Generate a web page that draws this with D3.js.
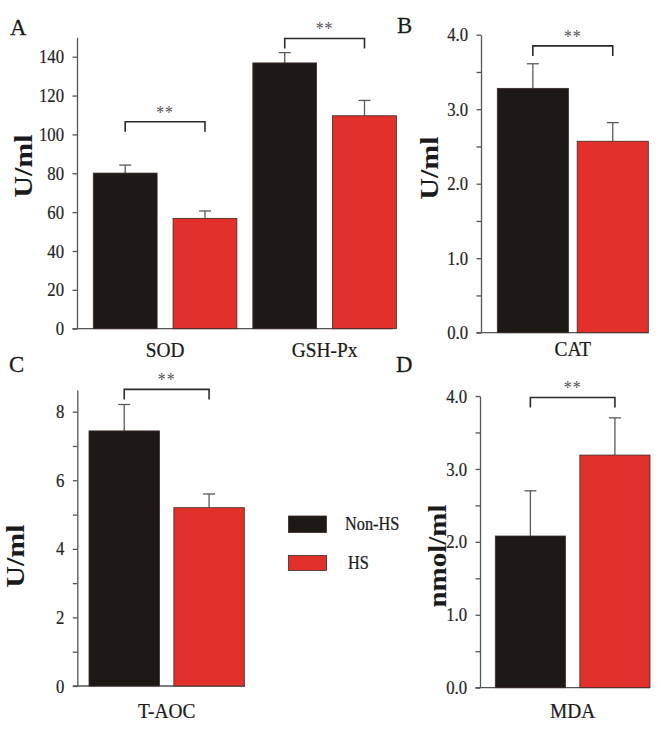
<!DOCTYPE html>
<html>
<head>
<meta charset="utf-8">
<script src="https://cdn.jsdelivr.net/npm/d3@7"></script>
<style>
  html, body { margin: 0; padding: 0; background: #fff; }
  svg { display: block; }
  text { font-family: "Liberation Serif", "Times New Roman", serif; }
</style>
</head>
<body>
<svg id="chart" width="668" height="734"></svg>
<script>
// ---------------- data ----------------
const seriesNames = ["Non-HS", "HS"];
const seriesColors = ["#1d1a16", "#e2302b"];

const groupsA = ["SOD", "GSH-Px"];
const nonHS_A = [80.1, 136.8];
const nonHS_A_sd = [4.1, 5.3];
const hs_A = [56.8, 109.6];
const hs_A_sd = [3.8, 7.9];
const ticksA = [0, 20, 40, 60, 80, 100, 120, 140];
const bracketA = [106.5, 149.4];

const groupsB = ["CAT"];
const nonHS_B = [3.28];
const nonHS_B_sd = [0.33];
const hs_B = [2.57];
const hs_B_sd = [0.25];
const ticksB = [0, 0.5, 1, 1.5, 2, 2.5, 3, 3.5, 4];
const labelTicksB = [0, 1, 2, 3, 4];
const bracketB = [3.85];

const groupsC = ["T-AOC"];
const nonHS_C = [7.44];
const nonHS_C_sd = [0.77];
const hs_C = [5.2];
const hs_C_sd = [0.4];
const ticksC = [0, 1, 2, 3, 4, 5, 6, 7, 8];
const labelTicksC = [0, 2, 4, 6, 8];
const bracketC = [8.65];

const groupsD = ["MDA"];
const nonHS_D = [2.08];
const nonHS_D_sd = [0.62];
const hs_D = [3.19];
const hs_D_sd = [0.51];
const ticksD = [0, 0.5, 1, 1.5, 2, 2.5, 3, 3.5, 4];
const labelTicksD = [0, 1, 2, 3, 4];
const bracketD = [3.98];

// ---------------- drawing ----------------
const svg = d3.select("#chart");
const SX = 0.88; // horizontal compression of text in the original figure

function hText(g, x, y, str, opts) {
  const t = g.append("text")
    .attr("transform", `translate(${x},${y}) scale(${opts.sx || SX},1)`)
    .attr("text-anchor", opts.anchor || "start")
    .attr("font-size", opts.size)
    .attr("fill", opts.fill || "#1a1a1a")
    .attr("stroke", opts.fill || "#1a1a1a")
    .attr("stroke-width", opts.sw == null ? 0.25 : opts.sw)
    .text(str);
  if (opts.weight) t.attr("font-weight", opts.weight);
  if (opts.ls) t.attr("letter-spacing", opts.ls);
  return t;
}

function vText(g, x, y, str, opts) {
  return g.append("text")
    .attr("transform", `translate(${x},${y}) rotate(-90) scale(1,${opts.sx || 0.85})`)
    .attr("text-anchor", "middle")
    .attr("font-size", opts.size)
    .attr("font-weight", "bold")
    .attr("fill", "#1a1a1a")
    .text(str);
}

function panel(cfg) {
  const g = svg.append("g");
  const y = d3.scaleLinear().domain([0, cfg.yTop]).range([cfg.y0, cfg.yTopPx]);
  const xg = d3.scaleBand().domain(cfg.groups).range(cfg.barRange).paddingInner(cfg.groupPad);
  const xs = d3.scaleBand().domain(seriesNames).range([0, xg.bandwidth()]).paddingInner(cfg.barPad);

  // y axis
  const labelSet = new Set(cfg.labelTicks.map(String));
  const axis = d3.axisLeft(y)
    .tickValues(cfg.ticks)
    .tickSize(4.5)
    .tickSizeOuter(0)
    .tickPadding(8.5)
    .tickFormat(d => labelSet.has(String(d)) ? d3.format(cfg.fmt)(d) : "");
  const ax = g.append("g").attr("transform", `translate(${cfg.axisX},0)`).call(axis);
  ax.select(".domain").attr("stroke", "#555").attr("stroke-width", 1.3);
  ax.selectAll(".tick line").attr("stroke", "#555").attr("stroke-width", 1.3);
  ax.selectAll(".tick text")
    .attr("font-family", "'Liberation Serif', serif")
    .attr("font-size", 19)
    .attr("fill", "#222")
    .attr("stroke", "#222")
    .attr("stroke-width", 0.2)
    .each(function () {
      const t = d3.select(this);
      const x = +t.attr("x");
      t.attr("x", x / SX).attr("transform", `scale(${SX},1)`);
    });

  // x axis line
  g.append("line")
    .attr("x1", cfg.axisX - 4.5).attr("x2", cfg.xAxisEnd)
    .attr("y1", y(0)).attr("y2", y(0))
    .attr("stroke", "#555").attr("stroke-width", 1.3);

  // bars
  cfg.groups.forEach((grp, i) => {
    const vals = [cfg.nonHS[i], cfg.hs[i]];
    const sds = [cfg.nonHS_sd[i], cfg.hs_sd[i]];
    seriesNames.forEach((s, j) => {
      const bx = xg(grp) + xs(s);
      const bw = xs.bandwidth();
      const cx = bx + bw / 2;
      // error bar
      g.append("line")
        .attr("x1", cx).attr("x2", cx)
        .attr("y1", y(vals[j])).attr("y2", y(vals[j] + sds[j]))
        .attr("stroke", "#5a5a5a").attr("stroke-width", 1.3);
      g.append("line")
        .attr("x1", cx - 6).attr("x2", cx + 6)
        .attr("y1", y(vals[j] + sds[j])).attr("y2", y(vals[j] + sds[j]))
        .attr("stroke", "#5a5a5a").attr("stroke-width", 1.3);
      g.append("rect")
        .attr("x", bx).attr("y", y(vals[j]))
        .attr("width", bw).attr("height", y(0) - y(vals[j]))
        .attr("fill", seriesColors[j])
        .attr("stroke", "#3a2a28").attr("stroke-width", 0.8);
    });
    // bracket
    const x1 = xg(grp) + xs(seriesNames[0]) + xs.bandwidth() / 2;
    const x2 = xg(grp) + xs(seriesNames[1]) + xs.bandwidth() / 2;
    const by = y(cfg.bracket[i]);
    g.append("path")
      .attr("d", `M${x1},${by + 10}V${by}H${x2}V${by + 10}`)
      .attr("fill", "none").attr("stroke", "#2a2a2a").attr("stroke-width", 1.6);
    hText(g, (x1 + x2) / 2, by - 3, "**", { size: 18, anchor: "middle", fill: "#555", ls: 1, sw: 0 });
    // category label
    hText(g, xg(grp) + xg.bandwidth() / 2, cfg.catY, grp, { size: 22, anchor: "middle" });
  });

  // y label
  vText(g, cfg.yLabelX, cfg.yLabelY, cfg.yLabel, { size: cfg.yLabelSize, sx: 0.85 });
  // panel letter
  hText(g, cfg.letterX, cfg.letterY, cfg.letter, { size: 24, sx: 0.95 });
}

panel({
  letter: "A", letterX: 10, letterY: 35,
  groups: groupsA, nonHS: nonHS_A, nonHS_sd: nonHS_A_sd, hs: hs_A, hs_sd: hs_A_sd,
  ticks: ticksA, labelTicks: ticksA, fmt: "d", bracket: bracketA,
  yTop: 150, y0: 328.7, yTopPx: 328.7 - 150 * (272 / 140),
  axisX: 77, xAxisEnd: 393, barRange: [93.3, 396.4], groupPad: 0.1, barPad: 0.2,
  catY: 357, yLabel: "U/ml", yLabelX: 32, yLabelY: 166, yLabelSize: 30
});

panel({
  letter: "B", letterX: 397, letterY: 33,
  groups: groupsB, nonHS: nonHS_B, nonHS_sd: nonHS_B_sd, hs: hs_B, hs_sd: hs_B_sd,
  ticks: ticksB, labelTicks: labelTicksB, fmt: ".1f", bracket: bracketB,
  yTop: 4, y0: 332.7, yTopPx: 34.7,
  axisX: 481, xAxisEnd: 648.5, barRange: [497.3, 648.3], groupPad: 0, barPad: 0.11,
  catY: 356, yLabel: "U/ml", yLabelX: 438, yLabelY: 168, yLabelSize: 30
});

panel({
  letter: "C", letterX: 9, letterY: 372,
  groups: groupsC, nonHS: nonHS_C, nonHS_sd: nonHS_C_sd, hs: hs_C, hs_sd: hs_C_sd,
  ticks: ticksC, labelTicks: labelTicksC, fmt: "d", bracket: bracketC,
  yTop: 8.63, y0: 686, yTopPx: 686 - 8.63 * (274.3 / 8),
  axisX: 77.3, xAxisEnd: 245, barRange: [89, 244.3], groupPad: 0, barPad: 0.17,
  catY: 718, yLabel: "U/ml", yLabelX: 24, yLabelY: 556, yLabelSize: 30
});

panel({
  letter: "D", letterX: 396, letterY: 372,
  groups: groupsD, nonHS: nonHS_D, nonHS_sd: nonHS_D_sd, hs: hs_D, hs_sd: hs_D_sd,
  ticks: ticksD, labelTicks: labelTicksD, fmt: ".1f", bracket: bracketD,
  yTop: 4, y0: 687.7, yTopPx: 396,
  axisX: 480, xAxisEnd: 650, barRange: [495.3, 650], groupPad: 0, barPad: 0.17,
  catY: 718, yLabel: "nmol/ml", yLabelX: 446, yLabelY: 556, yLabelSize: 29
});

// legend
const leg = svg.append("g");
const legendY = [516, 555.5];
const legendTextX = [345, 348];
seriesNames.forEach((s, i) => {
  leg.append("rect")
    .attr("x", 288.5).attr("y", legendY[i])
    .attr("width", 38).attr("height", i === 0 ? 16.5 : 15)
    .attr("fill", seriesColors[i])
    .attr("stroke", "#3a2a28").attr("stroke-width", 0.8);
  hText(leg, legendTextX[i], legendY[i] + 13.5, s, { size: 18.5 });
});
</script>
</body>
</html>
